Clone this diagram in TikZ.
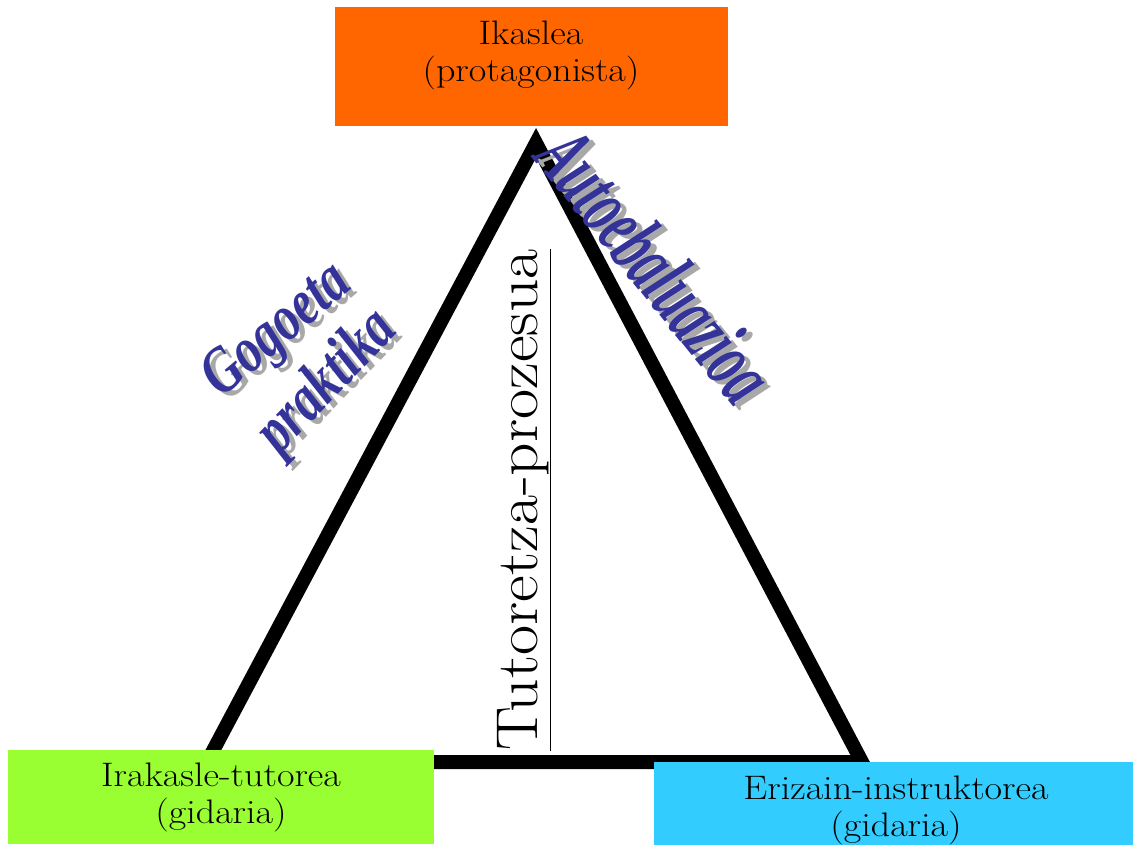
\documentclass[tikz,border=0pt]{standalone}
\usepackage{fontspec}
\usepackage{tikz}
\newfontfamily\artfont{Liberation Serif}
\definecolor{ikaslecolor}{HTML}{FF6600}
\definecolor{irakaslecolor}{HTML}{99FF33}
\definecolor{erizaincolor}{HTML}{33CCFF}
\definecolor{artblue}{HTML}{333399}
\definecolor{artgray}{HTML}{A8A8A8}

\begin{document}
\begin{tikzpicture}[x=1pt,y=-1pt,
		box/.style={rectangle,draw=none,inner sep=0pt},
		boxtext/.style={align=center,inner sep=0pt,xscale=1.12,font=\fontsize{34}{37}\selectfont},
		art/.style={inner sep=0pt,text=artblue,font=\artfont\bfseries\itshape\fontsize{50}{60}\selectfont},
		artshade/.style={art,text=artgray,xshift=6pt,yshift=-4pt}]
		\clip (0,0) rectangle (1133,844);
		\fill[white] (0,0) rectangle (1133,844);
		
		% the triangle
		\coordinate (top)   at (536,143);
		\coordinate (left)  at (207,762);
		\coordinate (right) at (862,762);
		\draw[line width=14pt] (top) -- (right) -- (left) -- cycle;
		
		\node[rotate=90,xscale=1.11,anchor=base,inner sep=0pt,font=\fontsize{59}{60}\selectfont] (tutoretza) at (537,500) {\underline{Tutoretza-prozesua}};
		
		% word art labels, shadow first
		\node[artshade,rotate=40,yscale=1.3]  (gogoetashade)  at (278,332) {Gogoeta};
		\node[art,rotate=40,yscale=1.3]       (gogoeta)       at (278,332) {Gogoeta};
		\node[artshade,rotate=46,yscale=1.3]  (praktikashade) at (328,383) {praktika};
		\node[art,rotate=46,yscale=1.3]       (praktika)      at (328,383) {praktika};
		\node[artshade,rotate=-51,yscale=1.7] (autoshade)     at (656,265) {Autoebaluazioa};
		\node[art,rotate=-51,yscale=1.7]      (auto)          at (656,265) {Autoebaluazioa};
		
		% the three roles
		\node[box,fill=ikaslecolor,minimum width=393pt,minimum height=119pt]   (ikaslebox)   at (531.5,66.5) {};
		\node[boxtext] (ikaslea)   at (531,55)  {Ikaslea\\(protagonista)};
		\node[box,fill=irakaslecolor,minimum width=426pt,minimum height=94pt]  (irakaslebox) at (221,797)   {};
		\node[boxtext] (irakaslea) at (221,797) {Irakasle-tutorea\\(gidaria)};
		\node[box,fill=erizaincolor,minimum width=479pt,minimum height=100pt]  (erizainbox)  at (893.5,812) {};
		\node[boxtext] (erizaina)  at (896,810) {Erizain-instruktorea\\(gidaria)};
\end{tikzpicture}
\end{document}
